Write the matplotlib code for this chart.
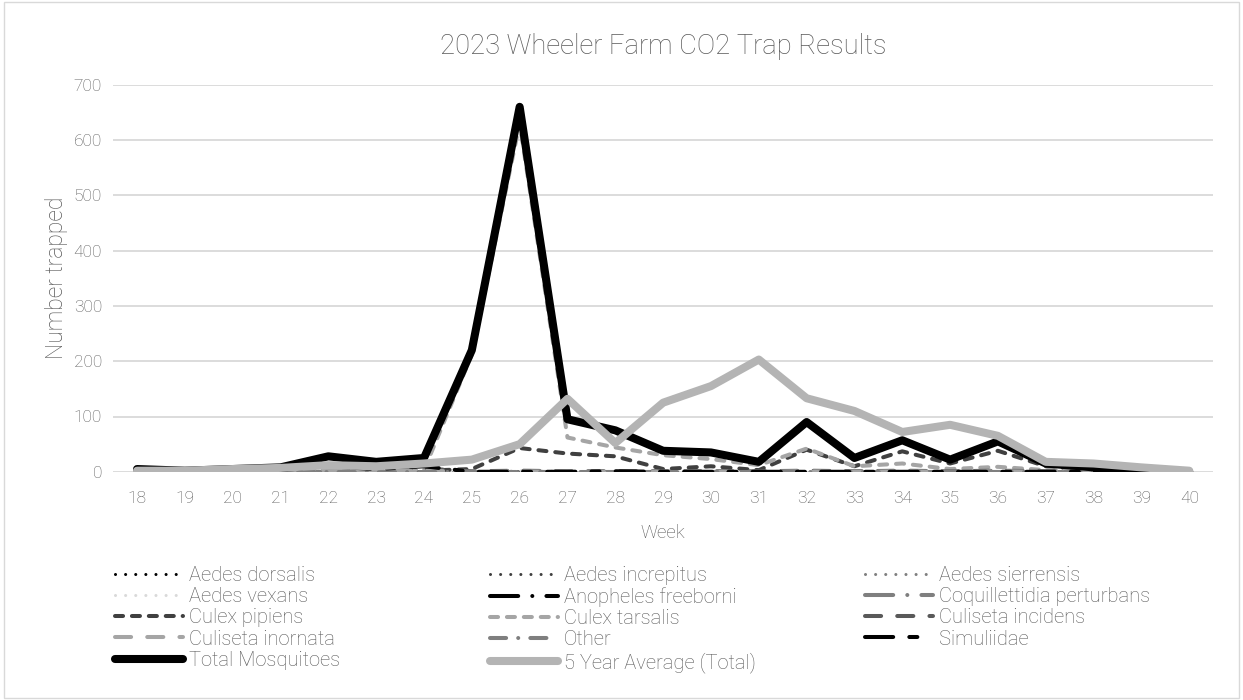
import matplotlib
matplotlib.use('Agg')
import matplotlib.pyplot as plt
from matplotlib.patches import Rectangle

weeks = list(range(18, 41))

aedes_dorsalis = [0] * 23
aedes_increpitus = [0] * 23
aedes_sierrensis = [0] * 23
aedes_vexans = [0, 0, 0, 0, 0, 0, 0, 0, 2, 1, 0, 0, 0, 0, 0, 0, 0, 0, 0, 0, 0, 0, 0]
anopheles_freeborni = [0] * 23
coquillettidia = [0] * 23
culex_pipiens = [0, 0, 1, 2, 3, 3, 2, 5, 43, 33, 28, 5, 10, 3, 40, 10, 37, 15, 38, 10, 3, 1, 0]
culex_tarsalis = [0, 0, 1, 2, 3, 3, 3, 212, 630, 62, 44, 30, 23, 12, 42, 10, 15, 5, 9, 3, 2, 1, 0]
culiseta_incidens = [5, 1, 1, 2, 8, 5, 6, 1, 2, 1, 1, 1, 1, 1, 2, 1, 2, 1, 2, 1, 1, 0, 0]
culiseta_inornata = [0, 0, 0, 0, 2, 1, 2, 0, 1, 0, 0, 0, 0, 0, 1, 0, 1, 0, 1, 0, 0, 0, 0]
other = [0] * 23
simuliidae = [0, 0, 2, 3, 10, 5, 10, 0, 0, 0, 1, 0, 0, 0, 0, 0, 0, 0, 0, 0, 0, 0, 0]
total = [5, 2, 5, 8, 28, 18, 25, 220, 660, 95, 75, 38, 35, 18, 90, 25, 57, 22, 55, 15, 8, 3, 0]
five_year_avg = [2, 2, 5, 7, 12, 10, 15, 22, 50, 132, 52, 125, 155, 203, 133, 110, 72, 85, 65, 18, 15, 8, 2]

dot = (0, (0.01, 3.3))
series = [
    ('Aedes dorsalis', aedes_dorsalis, '#000000', dot, 2.2),
    ('Aedes increpitus', aedes_increpitus, '#404040', dot, 2.2),
    ('Aedes sierrensis', aedes_sierrensis, '#7f7f7f', dot, 2.2),
    ('Aedes vexans', aedes_vexans, '#d9d9d9', dot, 2.2),
    ('Anopheles freeborni', anopheles_freeborni, '#000000', (0, (7, 3.5, 0.01, 3.5)), 2.9),
    ('Coquillettidia perturbans', coquillettidia, '#7f7f7f', (0, (7, 3.5, 0.01, 3.5)), 2.9),
    ('Culex pipiens', culex_pipiens, '#404040', (0, (2.0, 2.2)), 2.9),
    ('Culex tarsalis', culex_tarsalis, '#a5a5a5', (0, (2.0, 2.2)), 2.9),
    ('Culiseta incidens', culiseta_incidens, '#595959', (0, (4, 4)), 2.9),
    ('Culiseta inornata', culiseta_inornata, '#a5a5a5', (0, (4, 4)), 2.9),
    ('Other', other, '#7f7f7f', (0, (4, 3, 0.01, 3)), 2.9),
    ('Simuliidae', simuliidae, '#000000', (0, (7, 4, 2, 4)), 2.9),
    ('Total Mosquitoes', total, '#000000', '-', 5.8),
    ('5 Year Average (Total)', five_year_avg, '#b4b4b4', '-', 5.8),
]

plt.rcParams['font.family'] = ['Roboto', 'DejaVu Sans']
text_color = '#595959'

fig = plt.figure(figsize=(12.43, 7.0), dpi=100)
ax = fig.add_axes([0.091, 0.326, 0.885, 0.553])

handles = []
for name, vals, color, ls, lw in series:
    line, = ax.plot(weeks, vals, color=color, linestyle=ls, linewidth=lw,
                    dash_capstyle='round', solid_capstyle='round',
                    solid_joinstyle='round', dash_joinstyle='round', label=name)
    handles.append(line)

ax.set_xlim(17.5, 40.5)
ax.set_ylim(0, 700)
ax.set_xticks(weeks)
ax.set_yticks(range(0, 701, 100))
ax.tick_params(length=0, labelsize=12.5, colors=text_color, pad=14)
ax.tick_params(axis='y', pad=8)
for lab in ax.get_xticklabels() + ax.get_yticklabels():
    lab.set_fontweight('light')
ax.grid(axis='y', color='#d9d9d9', linewidth=1.3)
ax.set_axisbelow(True)
for s in ax.spines.values():
    s.set_visible(False)

ax.set_title('2023 Wheeler Farm CO2 Trap Results', fontsize=19.7, color=text_color,
             fontweight='light', pad=22)
ax.set_xlabel('Week', fontsize=13.5, color=text_color, fontweight='light', labelpad=13)
ax.set_ylabel('Number trapped', fontsize=16.5, color=text_color, fontweight='light', labelpad=4)

# legend laid out row by row in three fixed columns
col_x = [115 / 1243, 490 / 1243, 865 / 1243]
for c in range(3):
    idx = list(range(c, len(series), 3))
    leg = fig.legend([handles[i] for i in idx], [series[i][0] for i in idx],
                     loc='upper left', bbox_to_anchor=(col_x[c], 0.192),
                     frameon=False, fontsize=14.5, handlelength=3.4,
                     handletextpad=0.25, labelspacing=0.115,
                     borderaxespad=0, borderpad=0)
    for t in leg.get_texts():
        t.set_color(text_color)
        t.set_fontweight('light')

fig.patches.append(Rectangle((0.003, 0.003), 0.994, 0.994, transform=fig.transFigure,
                             fill=False, edgecolor='#d9d9d9', linewidth=1))

fig.savefig('out.png', dpi=100)
plt.close(fig)
